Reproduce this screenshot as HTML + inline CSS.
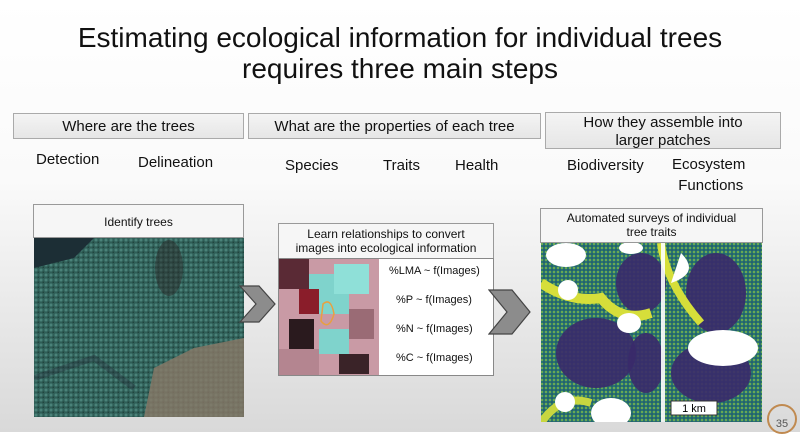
<!DOCTYPE html>
<html><head><style>
body{margin:0;width:800px;height:432px;overflow:hidden;font-family:"Liberation Sans",sans-serif;background:linear-gradient(#fff 0,#fafafa 180px,#d9d9d9 432px);position:relative}
.a{position:absolute}
.t{position:absolute;left:0;width:800px;text-align:center;font-size:28px;color:#111}
.hb{position:absolute;background:linear-gradient(#f4f4f4,#e6e6e6);border:1px solid #aaa;box-sizing:border-box;text-align:center;font-size:15px;color:#111;line-height:18px}
.lb{position:absolute;font-size:15px;color:#111}
.ph{position:absolute;background:#f6f6f6;border:1px solid #999;box-sizing:border-box;text-align:center;font-size:12px;color:#111;line-height:14px}
.fx{position:absolute;font-size:11px;color:#111}
</style></head><body>
<div class="t" style="top:22px">Estimating ecological information for individual trees</div>
<div class="t" style="top:53px">requires three main steps</div>

<div class="hb" style="left:13px;top:113px;width:231px;height:26px;padding-top:4px">Where are the trees</div>
<div class="hb" style="left:248px;top:113px;width:293px;height:26px;padding-top:4px">What are the properties of each tree</div>
<div class="hb" style="left:545px;top:112px;width:236px;height:37px;padding-top:1px">How they assemble into<br>larger patches</div>

<div class="lb" style="left:36px;top:151px">Detection</div>
<div class="lb" style="left:138px;top:154px">Delineation</div>
<div class="lb" style="left:285px;top:157px">Species</div>
<div class="lb" style="left:383px;top:157px">Traits</div>
<div class="lb" style="left:455px;top:157px">Health</div>
<div class="lb" style="left:567px;top:157px">Biodiversity</div>
<div class="lb" style="left:672px;top:154px;text-align:center;line-height:21px">Ecosystem<br>&nbsp;Functions</div>

<!-- left panel -->
<div class="ph" style="left:33px;top:204px;width:211px;height:34px;padding-top:10px">Identify trees</div>
<svg class="a" style="left:34px;top:238px" width="210" height="179">
<defs><pattern id="p1" width="5" height="5" patternUnits="userSpaceOnUse"><rect width="5" height="5" fill="#2f5e57"/><circle cx="2" cy="2" r="1.5" fill="#4a8279"/><circle cx="4.5" cy="4.5" r="1" fill="#21443d"/></pattern></defs>
<rect width="210" height="179" fill="url(#p1)"/>
<path d="M0 0H60L40 20L0 30Z" fill="#1c2e35"/>
<ellipse cx="135" cy="30" rx="14" ry="28" fill="#2a2a2a" opacity=".5"/>
<path d="M110 179L120 130L160 110L210 100V179Z" fill="#8a7866" opacity=".8"/>
<path d="M0 140L60 120L100 150" stroke="#223" stroke-width="6" fill="none" opacity=".3"/>
</svg>
<svg class="a" style="left:239px;top:285px" width="38" height="38"><path d="M1 1H20L36 19L20 37H1L17 19Z" fill="#8c8c8c" stroke="#444" stroke-width="1.2"/></svg>

<!-- middle panel -->
<div class="ph" style="left:278px;top:223px;width:216px;height:36px;padding-top:3px;font-size:12px">Learn relationships to convert<br>images into ecological information</div>
<div class="a" style="left:278px;top:258px;width:216px;height:118px;background:#fff;border:1px solid #888;box-sizing:border-box"></div>
<svg class="a" style="left:279px;top:259px" width="100" height="116">
<rect width="100" height="116" fill="#c99aa5"/>
<rect x="0" y="0" width="30" height="30" fill="#5a2a35"/>
<rect x="30" y="15" width="40" height="40" fill="#7fd3cc"/>
<rect x="55" y="5" width="35" height="30" fill="#8fe0d8"/>
<rect x="20" y="30" width="20" height="25" fill="#8a1d2a"/>
<rect x="10" y="60" width="25" height="30" fill="#2a1a1e"/>
<rect x="40" y="70" width="30" height="25" fill="#7fd3cc"/>
<rect x="70" y="50" width="25" height="30" fill="#9a6b75"/>
<rect x="0" y="90" width="40" height="26" fill="#b48590"/>
<rect x="60" y="95" width="30" height="20" fill="#3a2328"/>
<path d="M44 45Q52 38 55 55Q50 72 42 62Z" fill="none" stroke="#e8a040" stroke-width="1.5"/>
</svg>
<div class="fx" style="left:389px;top:265px">%LMA ~ f(Images)</div>
<div class="fx" style="left:396px;top:294px">%P ~ f(Images)</div>
<div class="fx" style="left:396px;top:323px">%N ~ f(Images)</div>
<div class="fx" style="left:396px;top:352px">%C ~ f(Images)</div>
<svg class="a" style="left:488px;top:289px" width="44" height="46"><path d="M1 1H24L42 23L24 45H1L19 23Z" fill="#8c8c8c" stroke="#444" stroke-width="1.2"/></svg>

<!-- right panel -->
<div class="ph" style="left:540px;top:208px;width:223px;height:35px;padding-top:2px">Automated surveys of individual<br>tree traits</div>
<svg class="a" style="left:541px;top:243px" width="221" height="179">
<defs><pattern id="p2" width="4" height="4" patternUnits="userSpaceOnUse"><rect width="4" height="4" fill="#2a7570"/><circle cx="1" cy="1" r="1" fill="#7fb84a"/><circle cx="3" cy="3" r="0.8" fill="#1f4a66"/></pattern></defs>
<rect width="221" height="179" fill="url(#p2)"/>
<ellipse cx="55" cy="110" rx="40" ry="35" fill="#3a2a6a" opacity=".9"/>
<ellipse cx="100" cy="40" rx="25" ry="30" fill="#3a2a6a" opacity=".9"/>
<ellipse cx="175" cy="50" rx="30" ry="40" fill="#3a2a6a" opacity=".9"/>
<ellipse cx="170" cy="130" rx="40" ry="30" fill="#3a2a6a" opacity=".9"/>
<ellipse cx="105" cy="120" rx="18" ry="30" fill="#3a2a6a" opacity=".9"/>
<path d="M0 40Q30 60 60 55Q80 80 110 70" stroke="#d6de3a" stroke-width="10" fill="none"/>
<path d="M120 0Q125 40 160 80" stroke="#d6de3a" stroke-width="8" fill="none"/>
<path d="M0 180Q20 150 50 160" stroke="#c8d640" stroke-width="8" fill="none"/>
<ellipse cx="25" cy="12" rx="20" ry="12" fill="#fff"/>
<ellipse cx="90" cy="5" rx="12" ry="6" fill="#fff"/>
<circle cx="27" cy="47" r="10" fill="#fff"/>
<path d="M140 10Q160 30 130 40Z" fill="#fff"/>
<ellipse cx="88" cy="80" rx="12" ry="10" fill="#fff"/>
<ellipse cx="182" cy="105" rx="35" ry="18" fill="#fff"/>
<rect x="120" y="0" width="4" height="179" fill="#fff" opacity=".9"/>
<ellipse cx="70" cy="170" rx="20" ry="15" fill="#fff"/>
<circle cx="24" cy="159" r="10" fill="#fff"/>
<rect x="130" y="158" width="46" height="14" fill="#fff" stroke="#333"/>
<text x="153" y="169" font-size="11" text-anchor="middle" font-family="Liberation Sans">1 km</text>
</svg>

<div class="a" style="left:767px;top:404px;width:30px;height:30px;border:2px solid #c08a50;border-radius:50%;box-sizing:border-box;font-size:11px;color:#555;text-align:center;line-height:36px">35</div>
</body></html>
